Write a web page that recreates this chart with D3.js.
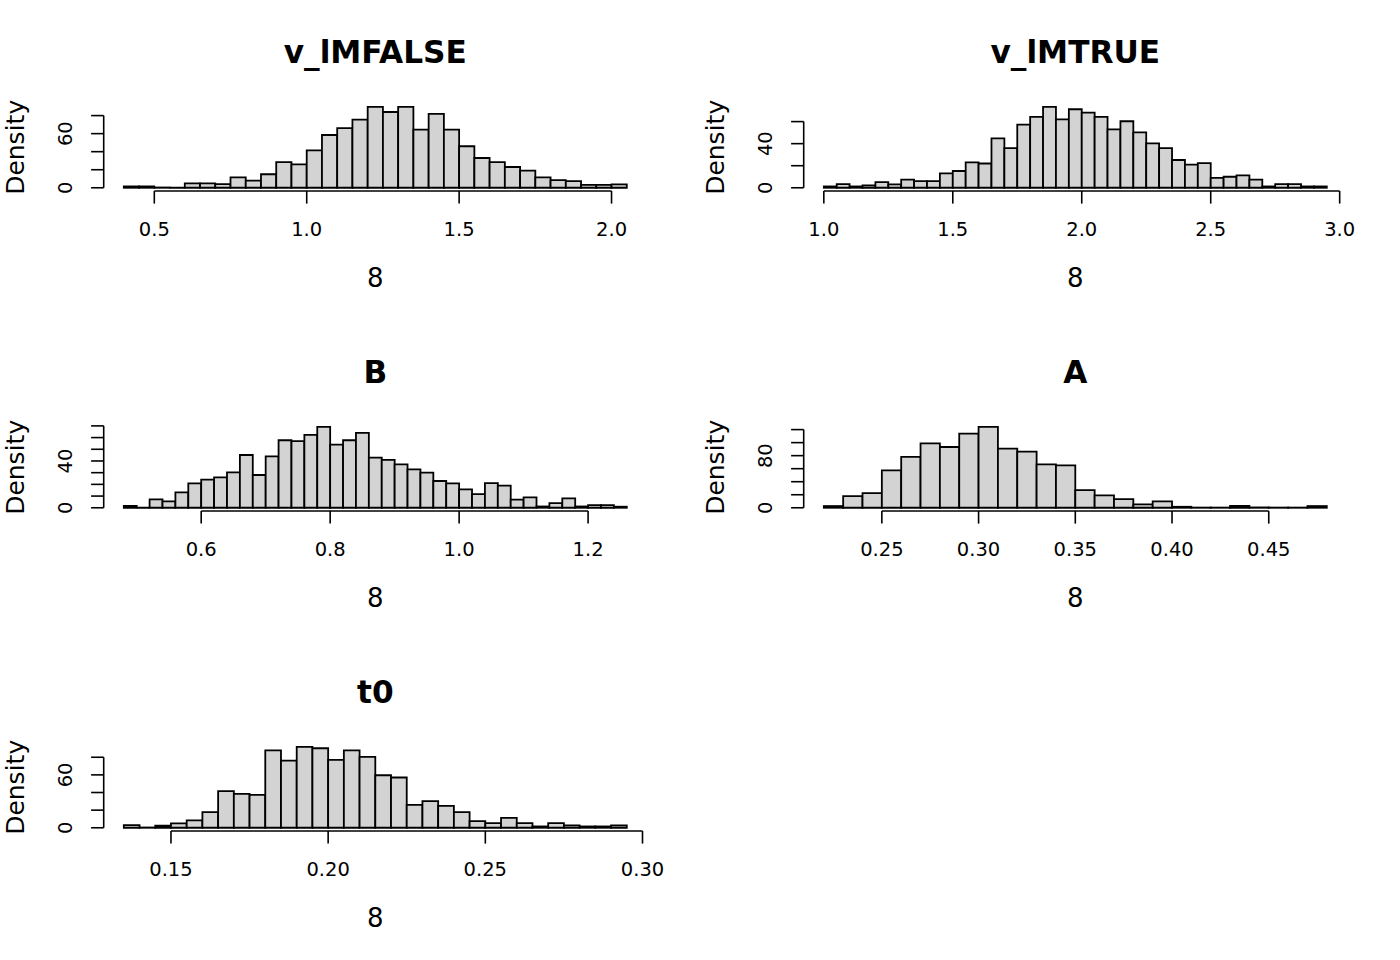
<!DOCTYPE html>
<html lang="en">
<head>
  <meta charset="UTF-8">
  <title>Posterior histograms</title>
  <script src="https://d3js.org/d3.v7.min.js"></script>
  <style>
    body { margin: 0; background: #fff; }
    svg { display: block; font-family: "DejaVu Sans", sans-serif; }
    .bar { fill: #d3d3d3; stroke: #000; stroke-width: 1.8px; }
    .axis-line, .tick { stroke: #000; stroke-width: 1.6px; fill: none; }
  </style>
</head>
<body>
<svg width="1400" height="960"></svg>
<script>
// panel titles and axis labels
const titles = ["v_lMFALSE", "v_lMTRUE", "B", "A", "t0"];
const xLabel = "8";
const yLabel = "Density";

// v_lMFALSE: bins of 0.05 starting at 0.40
const vFalseStart = 0.40, vFalseStep = 0.05;
const vFalseDensity = [1.5, 1.5, 0.3, 0, 4.8, 4.8, 4, 11.5, 8, 15, 28.5, 26, 41.5, 58.5, 66, 75.5,
  89.6, 84, 89.6, 64.5, 82, 64.5, 46, 33, 28.5, 23, 19, 11.5, 8.5, 7.4, 3.3, 3.3, 3.7];
const vFalseXTicks = ["0.5", "1.0", "1.5", "2.0"];
const vFalseYTicks = [0, 20, 40, 60, 80];
const vFalseYLabels = [0, 60];

// v_lMTRUE: bins of 0.05 starting at 1.00
const vTrueStart = 1.00, vTrueStep = 0.05;
const vTrueDensity = [1.2, 3.3, 1.2, 2.1, 5.2, 3, 7.3, 6, 6, 13, 15.2, 23, 22, 44.8, 36, 57.3,
  64.2, 73.3, 62, 71.2, 68.2, 64.2, 53, 60.3, 50.3, 40.3, 36, 25.2, 21, 22.4, 9, 10, 11.2, 7.3,
  1.2, 3.3, 3.3, 1.2, 1.2];
const vTrueXTicks = ["1.0", "1.5", "2.0", "2.5", "3.0"];
const vTrueYTicks = [0, 20, 40, 60];
const vTrueYLabels = [0, 40];

// B: bins of 0.02 starting at 0.48
const bStart = 0.48, bStep = 0.02;
const bDensity = [1.7, 0, 7.1, 5.4, 13.1, 20.9, 24, 26, 30.3, 45.1, 28, 44, 57.7, 56.9, 62.3, 69.1,
  54, 57.7, 64, 42.9, 40.9, 37.1, 32.9, 30, 22.9, 20.9, 15.7, 11.7, 21.1, 18.9, 6.9, 8.9, 1.1, 4,
  8, 1.1, 2.3, 2.3, 0.9];
const bXTicks = ["0.6", "0.8", "1.0", "1.2"];
const bYTicks = [0, 10, 20, 30, 40, 50, 60, 70];
const bYLabels = [0, 40];

// A: bins of 0.01 starting at 0.22
const aStart = 0.22, aStep = 0.01;
const aDensity = [2.6, 18, 22.6, 57.4, 78, 99, 93.3, 113.8, 124.1, 90.8, 86.2, 66.7, 65.1, 27.2,
  19, 13.3, 5.1, 9.7, 1.5, 0.3, 0.3, 3, 0.5, 0.3, 0.3, 2.6];
const aXTicks = ["0.25", "0.30", "0.35", "0.40", "0.45"];
const aYTicks = [0, 20, 40, 60, 80, 100, 120];
const aYLabels = [0, 80];

// t0: bins of 0.005 starting at 0.135
const t0Start = 0.135, t0Step = 0.005;
const t0Density = [3, 0.3, 2.3, 4.9, 8.3, 17.7, 41.5, 38.5, 37.4, 87.9, 76.2, 91.7, 90.2, 77, 87.9,
  80.4, 59.6, 57, 26, 30.2, 24.9, 17.7, 7.5, 5.3, 11.3, 5.3, 1.5, 5.3, 2.6, 1.5, 1.5, 2.6];
const t0XTicks = ["0.15", "0.20", "0.25", "0.30"];
const t0YTicks = [0, 20, 40, 60, 80];
const t0YLabels = [0, 60];

const panels = [
  { start: vFalseStart, step: vFalseStep, dens: vFalseDensity, xt: vFalseXTicks, yt: vFalseYTicks, yl: vFalseYLabels },
  { start: vTrueStart, step: vTrueStep, dens: vTrueDensity, xt: vTrueXTicks, yt: vTrueYTicks, yl: vTrueYLabels },
  { start: bStart, step: bStep, dens: bDensity, xt: bXTicks, yt: bYTicks, yl: bYLabels },
  { start: aStart, step: aStep, dens: aDensity, xt: aXTicks, yt: aYTicks, yl: aYLabels },
  { start: t0Start, step: t0Step, dens: t0Density, xt: t0XTicks, yt: t0YTicks, yl: t0YLabels }
];

const svg = d3.select("svg");
const cellW = 700, cellH = 320;
const plot = { left: 103.7, right: 646.9, top: 103.7, bottom: 191 };
const tickLen = 12.6;

panels.forEach((p, i) => {
  const g = svg.append("g")
    .attr("transform", `translate(${(i % 2) * cellW},${Math.floor(i / 2) * cellH})`);

  const n = p.dens.length;
  const lo = p.start, hi = p.start + n * p.step;
  const xPad = (hi - lo) * 0.04;
  const x = d3.scaleLinear().domain([lo - xPad, hi + xPad]).range([plot.left, plot.right]);
  const yMax = d3.max(p.dens);
  const y = d3.scaleLinear().domain([-0.04 * yMax, 1.04 * yMax]).range([plot.bottom, plot.top]);

  // bars (paths so that empty bins still show a line)
  g.append("g").selectAll("path")
    .data(p.dens).enter().append("path")
    .attr("class", "bar")
    .attr("d", (d, k) => {
      const x0 = x(lo + k * p.step), x1 = x(lo + (k + 1) * p.step);
      return `M${x0},${y(0)}V${y(d)}H${x1}V${y(0)}Z`;
    });

  // x axis
  const xv = p.xt.map(Number);
  g.append("line").attr("class", "axis-line")
    .attr("x1", x(xv[0])).attr("x2", x(xv[xv.length - 1]))
    .attr("y1", plot.bottom).attr("y2", plot.bottom);
  g.append("g").selectAll("line")
    .data(xv).enter().append("line")
    .attr("class", "tick")
    .attr("x1", d => x(d)).attr("x2", d => x(d))
    .attr("y1", plot.bottom).attr("y2", plot.bottom + tickLen);
  g.append("g").selectAll("text")
    .data(p.xt).enter().append("text")
    .attr("x", d => x(+d)).attr("y", 236)
    .attr("text-anchor", "middle")
    .attr("font-size", 19.5)
    .text(d => d);

  // y axis
  g.append("line").attr("class", "axis-line")
    .attr("x1", plot.left).attr("x2", plot.left)
    .attr("y1", y(p.yt[0])).attr("y2", y(p.yt[p.yt.length - 1]));
  g.append("g").selectAll("line")
    .data(p.yt).enter().append("line")
    .attr("class", "tick")
    .attr("x1", plot.left - tickLen).attr("x2", plot.left)
    .attr("y1", d => y(d)).attr("y2", d => y(d));
  g.append("g").selectAll("text")
    .data(p.yl).enter().append("text")
    .attr("transform", d => `translate(72,${y(d)}) rotate(-90)`)
    .attr("text-anchor", "middle")
    .attr("font-size", 19.5)
    .text(d => d);

  // titles and labels
  const cx = (plot.left + plot.right) / 2;
  g.append("text")
    .attr("x", cx).attr("y", 63.3)
    .attr("text-anchor", "middle")
    .attr("font-size", 31.2).attr("font-weight", "bold")
    .text(titles[i]);
  g.append("text")
    .attr("x", cx).attr("y", 286.7)
    .attr("text-anchor", "middle")
    .attr("font-size", 26)
    .text(xLabel);
  g.append("text")
    .attr("transform", `translate(24,${(plot.top + plot.bottom) / 2}) rotate(-90)`)
    .attr("text-anchor", "middle")
    .attr("font-size", 25)
    .text(yLabel);
});
</script>
</body>
</html>
